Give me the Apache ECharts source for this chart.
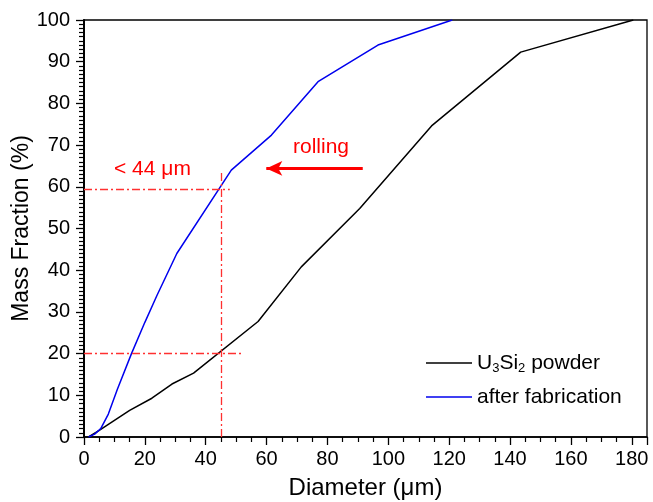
<!DOCTYPE html>
<html>
<head>
<meta charset="utf-8">
<script src="https://cdn.jsdelivr.net/npm/echarts@6/dist/echarts.min.js"></script>
<style>html,body{margin:0;padding:0;background:#fff;}#c{width:653px;height:502px;}</style>
</head>
<body>
<div id="c"></div>
<script>
// U3Si2 powder (black)
const powderX = [1.5, 5, 10, 15, 22.3, 28.9, 36, 57.2, 71.4, 90.6, 114.2, 143.5, 180.5];
const powderY = [0, 1.6, 4, 6.4, 9.3, 12.7, 15.3, 27.7, 40.8, 54.8, 74.6, 92.3, 100];
// after fabrication (blue)
const fabX = [1.5, 3.5, 5.5, 8, 11, 15.6, 20, 24, 30.5, 48.4, 61.6, 76.9, 96.6, 121];
const fabY = [0, 0.7, 2, 5.5, 11.5, 20, 27.5, 34, 44, 64, 72.4, 85.2, 94, 100];
// annotation lines (data coordinates)
const h60 = {y: 59.5, xEnd: 47.9};
const v44 = {x: 45, yTop: 63.5};
const h20 = {y: 20, xEnd: 51.8};
const arrow = {y: 64.4, xFrom: 91.6, xTo: 59.9};
const seriesNames = ['U3Si2 powder', 'after fabrication'];

const FONT = 'Liberation Sans, Arial, sans-serif';
const zip = (a, b) => a.map((v, i) => [v, b[i]]);
const red = '#ff3030';
const dashDot = [8, 3, 2, 3];

const chart = echarts.init(document.getElementById('c'));
chart.setOption({
  animation: false,
  backgroundColor: '#fff',
  grid: {left: 84, right: 6, top: 20, bottom: 65, show: true, borderColor: '#000', borderWidth: 1.3,
         containLabel: false, outerBoundsMode: 'none'},
  xAxis: {
    type: 'value', min: 0, max: 185, interval: 20,
    name: 'Diameter (μm)', nameLocation: 'middle', nameGap: 39,
    nameTextStyle: {fontFamily: FONT, fontSize: 24, color: '#000'},
    axisLine: {show: true, onZero: false, lineStyle: {color: '#000', width: 1.5}},
    axisTick: {show: true, inside: false, length: 8, lineStyle: {color: '#000', width: 1.3}},
    minorTick: {show: true, splitNumber: 4, length: 5, lineStyle: {color: '#000', width: 1.2}},
    axisLabel: {fontFamily: FONT, fontSize: 20, color: '#000', margin: 12, showMaxLabel: false,
      formatter: v => (v % 20 === 0 ? String(v) : '')},
    splitLine: {show: false}, minorSplitLine: {show: false}
  },
  yAxis: {
    type: 'value', min: 0, max: 100, interval: 10,
    name: 'Mass Fraction (%)', nameLocation: 'middle', nameGap: 51, nameMoveOverlap: false,
    nameTextStyle: {fontFamily: FONT, fontSize: 23, color: '#000'},
    axisLine: {show: true, onZero: false, lineStyle: {color: '#000', width: 2}},
    axisTick: {show: true, inside: false, length: 8, lineStyle: {color: '#000', width: 1.3}},
    minorTick: {show: true, splitNumber: 10, length: 5, lineStyle: {color: '#000', width: 1.2}},
    axisLabel: {fontFamily: FONT, fontSize: 20, color: '#000', margin: 14},
    splitLine: {show: false}, minorSplitLine: {show: false}
  },
  legend: {
    orient: 'vertical', left: 421, top: 346, itemWidth: 46, itemHeight: 14, itemGap: 10,
    icon: 'path://M0,6 L46,6 L46,7.5 L0,7.5 Z',
    data: seriesNames,
    formatter: n => n === 'U3Si2 powder' ? '{n|U}{s|3}{n|Si}{s|2}{n| powder}' : '{n|' + n + '}',
    textStyle: {fontFamily: FONT, fontSize: 21, color: '#000', lineHeight: 24,
      rich: {n: {fontFamily: FONT, fontSize: 21, color: '#000', lineHeight: 24},
             s: {fontFamily: FONT, fontSize: 13, color: '#000', lineHeight: 24, padding: [10, 0, 0, 0]}}}
  },
  series: [
    {
      name: seriesNames[0], type: 'line', data: zip(powderX, powderY), symbol: 'none',
      lineStyle: {color: '#000', width: 1.5}, itemStyle: {color: '#000'}, z: 3,
      markLine: {
        silent: true, symbol: ['none', 'none'], label: {show: false},
        lineStyle: {color: red, width: 1.3, type: dashDot},
        data: [
          [{coord: [0, h60.y]}, {coord: [h60.xEnd, h60.y]}],
          [{coord: [v44.x, 0]}, {coord: [v44.x, v44.yTop]}],
          [{coord: [0, h20.y]}, {coord: [h20.xEnd, h20.y]}]
        ]
      }
    },
    {
      name: seriesNames[1], type: 'line', data: zip(fabX, fabY), symbol: 'none',
      lineStyle: {color: '#0000ee', width: 1.5}, itemStyle: {color: '#0000ee'}, z: 3,
      markLine: {
        silent: true, symbol: ['none', 'arrow'], symbolSize: [11, 16], label: {show: false},
        lineStyle: {color: '#ff0000', width: 3, type: 'solid'},
        data: [
          [{coord: [arrow.xFrom, arrow.y]}, {coord: [arrow.xTo, arrow.y]}]
        ]
      }
    }
  ],
  graphic: [
    {type: 'text', left: 114, top: 159, style: {text: '< 44 μm', fill: '#ff0000', font: '21px ' + FONT}},
    {type: 'text', left: 293, top: 137, style: {text: 'rolling', fill: '#ff0000', font: '21px ' + FONT}}
  ]
});
</script>
</body>
</html>
